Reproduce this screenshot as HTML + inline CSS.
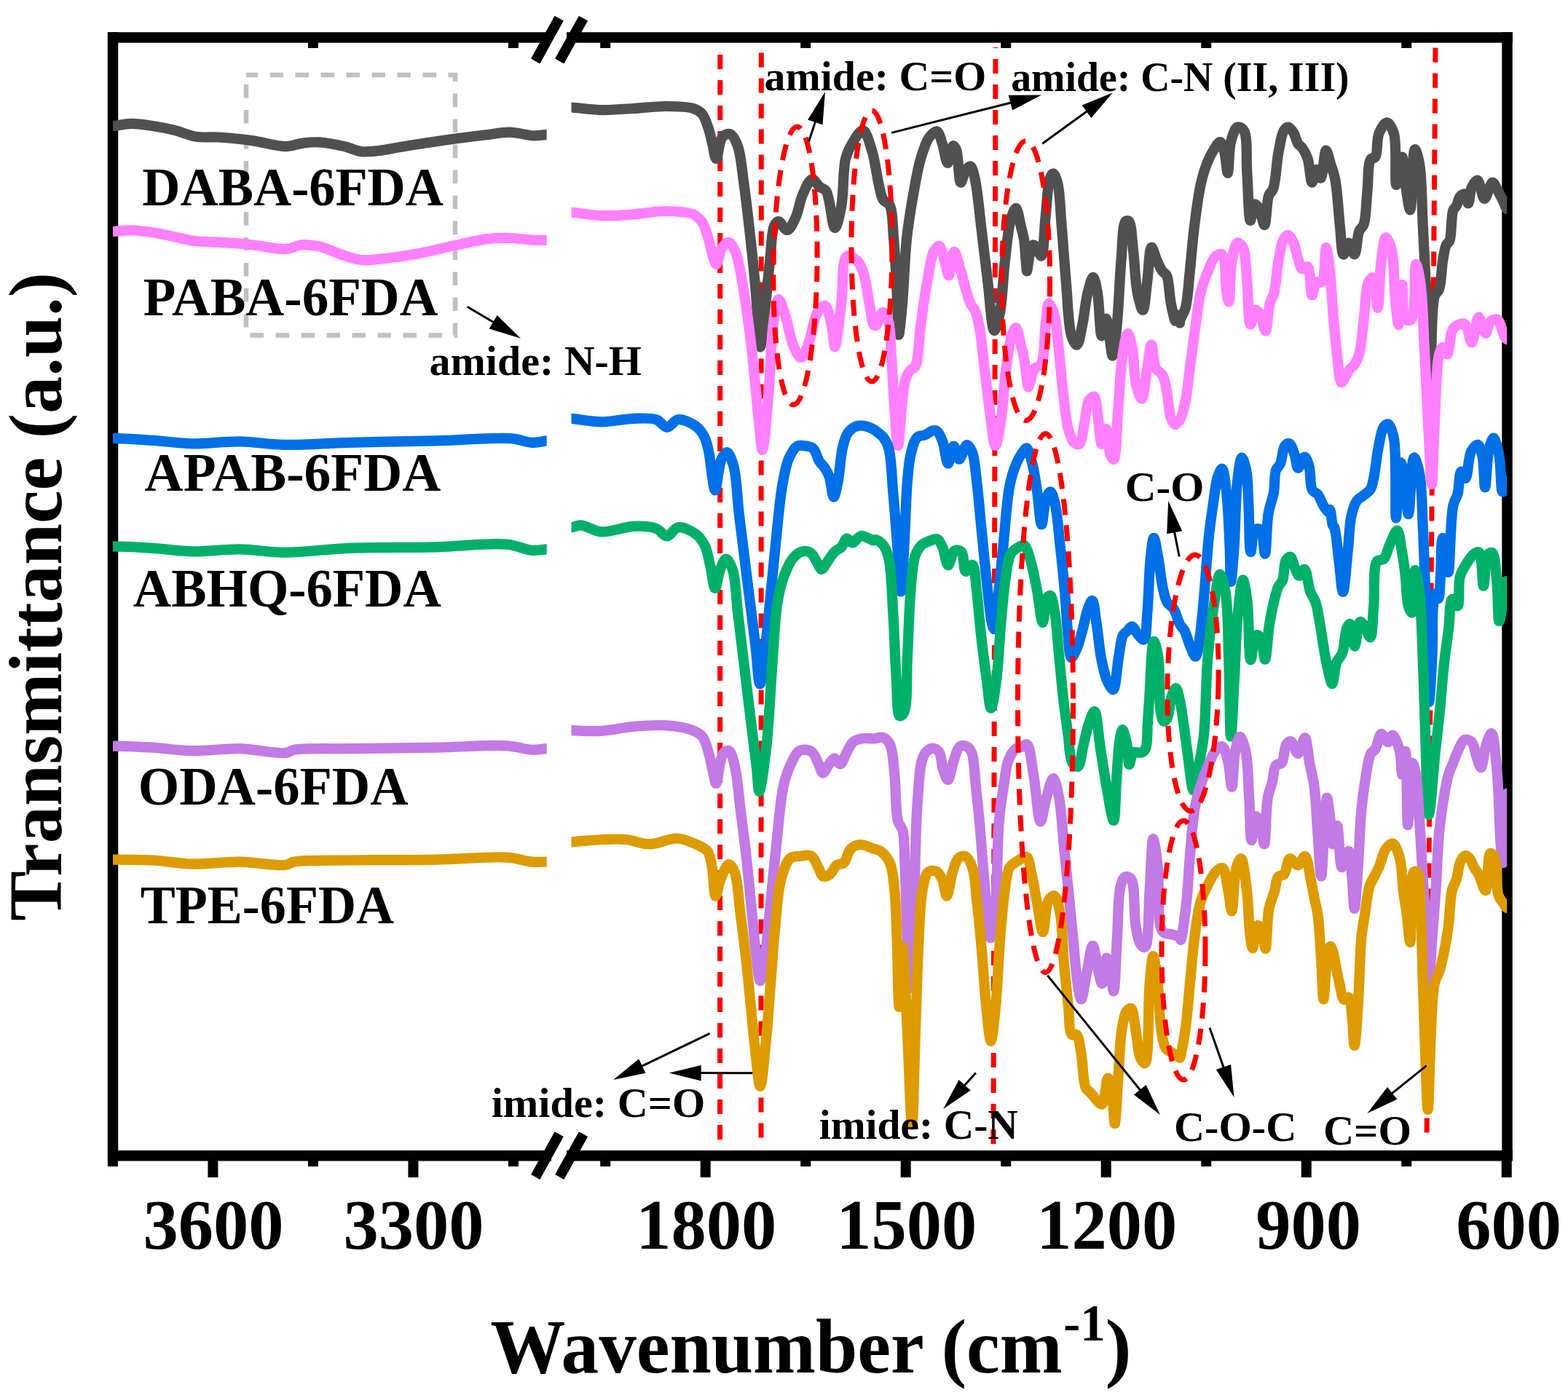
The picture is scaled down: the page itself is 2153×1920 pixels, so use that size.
<!DOCTYPE html>
<html><head><meta charset="utf-8"><style>
html,body{margin:0;padding:0;background:#fff;}
svg{display:block;}
text{font-family:'Liberation Serif','Times New Roman',serif;font-weight:bold;fill:#000;}
</style></head><body>
<svg width="2153" height="1920" viewBox="0 0 2153 1920">
<rect width="2153" height="1920" fill="#fff"/>
<g id="frame">
<path d="M155,44.3 V1594.5 M2069.5,44.3 V1594.5" stroke="#000" stroke-width="14.5" fill="none"/>
<path d="M148,51.6 H757 M778,51.6 H2076.8 M148,1587.2 H757 M778,1587.2 H2076.8" stroke="#000" stroke-width="14.5" fill="none"/>
<rect x="285.4" y="1594" width="14" height="23" fill="#000"/>
<rect x="560.41" y="1594" width="14" height="23" fill="#000"/>
<rect x="147.89499999999998" y="1594" width="14" height="8" fill="#000"/>
<rect x="422.905" y="1594" width="14" height="8" fill="#000"/>
<rect x="697.915" y="1594" width="14" height="8" fill="#000"/>
<rect x="961.7" y="1594" width="14" height="23" fill="#000"/>
<rect x="1236.71" y="1594" width="14" height="23" fill="#000"/>
<rect x="1511.72" y="1594" width="14" height="23" fill="#000"/>
<rect x="1786.73" y="1594" width="14" height="23" fill="#000"/>
<rect x="2061.74" y="1594" width="14" height="23" fill="#000"/>
<rect x="824.195" y="1594" width="14" height="8" fill="#000"/>
<rect x="1099.205" y="1594" width="14" height="8" fill="#000"/>
<rect x="1374.2150000000001" y="1594" width="14" height="8" fill="#000"/>
<rect x="1649.225" y="1594" width="14" height="8" fill="#000"/>
<rect x="1924.2350000000001" y="1594" width="14" height="8" fill="#000"/>
<rect x="422.905" y="58" width="14" height="8" fill="#000"/>
<rect x="697.915" y="58" width="14" height="8" fill="#000"/>
<rect x="824.195" y="58" width="14" height="8" fill="#000"/>
<rect x="1099.205" y="58" width="14" height="8" fill="#000"/>
<rect x="1374.2150000000001" y="58" width="14" height="8" fill="#000"/>
<rect x="1649.225" y="58" width="14" height="8" fill="#000"/>
<rect x="1924.2350000000001" y="58" width="14" height="8" fill="#000"/>
<line x1="735.2" y1="1616.5" x2="767.7" y2="1557.7" stroke="#000" stroke-width="14"/>
<line x1="768.2" y1="1616.5" x2="801" y2="1557.7" stroke="#000" stroke-width="14"/>
<line x1="735.2" y1="84" x2="767.7" y2="25.2" stroke="#000" stroke-width="14"/>
<line x1="768.2" y1="84" x2="801" y2="25.2" stroke="#000" stroke-width="14"/>
</g>
<rect x="338" y="103" width="287" height="357.5" fill="none" stroke="#c0c0c0" stroke-width="6.5" stroke-dasharray="18.5 16.5" stroke-dashoffset="2.5"/>
<g id="red">
<line x1="988.6" y1="1565" x2="988.8" y2="65" stroke="#ff0000" stroke-width="7" stroke-dasharray="20 15"/>
<line x1="1045" y1="1562.5" x2="1045.3" y2="65" stroke="#ff0000" stroke-width="7" stroke-dasharray="20 15"/>
<line x1="1364" y1="1571" x2="1367" y2="65" stroke="#ff0000" stroke-width="7" stroke-dasharray="20 15"/>
<line x1="1971" y1="65.6" x2="1959" y2="1567" stroke="#ff0000" stroke-width="7" stroke-dasharray="20 15"/>
</g>
<g id="curves">
<defs><clipPath id="cl"><rect x="155" y="0" width="595.7" height="1920"/></clipPath><clipPath id="cr"><rect x="784.5" y="0" width="1284.7" height="1920"/></clipPath></defs>
<path d="M148.0,172.9 C150.7,172.9 152.6,173.1 156.0,172.9 C161.8,172.5 171.5,170.0 179.9,169.9 C189.3,169.8 199.9,171.4 209.8,172.9 C219.8,174.4 229.8,176.4 239.7,178.9 C249.7,181.4 259.4,186.2 269.5,187.8 C279.5,189.4 288.8,187.8 300.0,188.5 C313.8,189.3 330.8,191.0 346.2,193.1 C361.6,195.2 379.6,201.3 392.3,201.2 C401.3,201.1 407.7,197.6 415.4,196.6 C423.1,195.6 430.1,194.9 438.5,195.4 C448.9,196.0 462.8,198.8 473.1,201.2 C481.6,203.2 488.4,207.2 496.2,208.1 C503.8,209.0 510.9,207.9 519.3,207.0 C529.7,205.9 540.4,203.3 553.9,201.2 C573.0,198.2 602.3,193.7 623.1,190.8 C640.0,188.5 655.5,186.6 669.3,185.0 C680.6,183.7 689.6,181.4 700.0,181.6 C710.8,181.8 723.5,186.0 732.8,186.3 C739.7,186.5 745.9,185.0 750.7,184.8 C753.9,184.7 756.0,184.8 758.7,184.8" stroke="#505050" stroke-width="14.2" fill="none" stroke-linejoin="round" stroke-linecap="butt" clip-path="url(#cl)"/>
<path d="M148.0,317.8 C150.7,317.8 152.6,317.9 156.0,317.8 C161.8,317.6 171.5,316.1 179.9,316.3 C189.3,316.5 199.9,317.8 209.8,319.3 C219.8,320.8 229.7,323.3 239.7,325.3 C249.6,327.3 259.5,330.1 269.5,331.3 C279.6,332.5 288.8,332.0 300.0,332.7 C313.8,333.5 330.8,334.7 346.2,336.2 C361.6,337.8 379.6,342.8 392.3,342.0 C401.4,341.5 407.7,336.8 415.4,336.2 C423.1,335.6 430.2,336.6 438.5,338.5 C449.0,340.9 462.7,348.0 473.1,351.2 C481.5,353.8 487.7,356.2 496.2,357.0 C506.5,357.9 518.5,356.0 530.8,354.7 C545.1,353.1 561.7,350.6 577.0,347.7 C592.4,344.8 607.7,340.7 623.1,337.4 C638.5,334.1 655.4,329.7 669.3,328.1 C680.5,326.8 689.6,326.7 700.0,327.0 C710.8,327.3 723.5,329.4 732.8,329.8 C739.7,330.1 745.9,329.8 750.7,329.8 C753.9,329.8 756.0,329.8 758.7,329.8" stroke="#ff80ff" stroke-width="14.2" fill="none" stroke-linejoin="round" stroke-linecap="butt" clip-path="url(#cl)"/>
<path d="M147.4,601.8 C150.1,601.8 151.5,601.7 155.4,601.8 C165.5,602.1 191.7,603.5 209.8,604.8 C227.8,606.0 244.8,608.9 263.6,609.3 C284.3,609.7 307.7,606.0 329.0,606.3 C349.4,606.6 367.0,610.3 389.0,610.8 C415.9,611.4 446.7,608.7 478.7,607.8 C515.6,606.8 559.5,606.3 598.0,605.4 C634.1,604.5 679.6,600.4 703.0,602.4 C714.9,603.4 721.4,607.4 729.8,607.8 C737.2,608.1 745.4,605.7 750.7,605.4 C754.0,605.2 756.0,605.4 758.7,605.4" stroke="#0070e6" stroke-width="14.2" fill="none" stroke-linejoin="round" stroke-linecap="butt" clip-path="url(#cl)"/>
<path d="M147.4,750.4 C150.1,750.4 151.5,750.3 155.4,750.4 C165.5,750.6 191.7,751.6 209.8,752.8 C227.8,753.9 244.8,756.9 263.6,757.3 C284.3,757.7 307.4,754.0 329.0,754.3 C350.2,754.6 369.3,758.7 392.0,758.7 C418.6,758.7 447.5,754.1 478.7,752.8 C515.3,751.3 560.1,752.2 598.0,751.3 C632.5,750.5 673.0,745.2 697.0,747.7 C711.0,749.1 720.0,755.0 729.8,755.8 C737.5,756.5 745.4,754.5 750.7,754.3 C754.0,754.2 756.0,754.3 758.7,754.3" stroke="#00b06a" stroke-width="14.2" fill="none" stroke-linejoin="round" stroke-linecap="butt" clip-path="url(#cl)"/>
<path d="M147.4,1024.6 C150.1,1024.6 151.5,1024.5 155.4,1024.6 C165.5,1024.8 191.7,1025.6 209.8,1026.7 C227.8,1027.8 244.8,1030.8 263.6,1031.2 C284.3,1031.6 307.4,1027.7 329.0,1028.2 C350.2,1028.7 379.3,1035.7 392.0,1034.1 C397.7,1033.4 398.2,1030.8 404.0,1029.7 C418.1,1027.0 450.9,1028.7 478.7,1028.2 C513.8,1027.6 560.1,1027.4 598.0,1026.7 C632.5,1026.1 672.9,1022.6 697.0,1024.3 C710.9,1025.3 720.1,1029.3 729.8,1029.7 C737.5,1030.1 745.4,1028.4 750.7,1028.2 C754.0,1028.1 756.0,1028.2 758.7,1028.2" stroke="#c27ae4" stroke-width="14.2" fill="none" stroke-linejoin="round" stroke-linecap="butt" clip-path="url(#cl)"/>
<path d="M147.4,1180.6 C150.1,1180.6 151.5,1180.6 155.4,1180.6 C165.5,1180.7 191.7,1180.5 209.8,1181.5 C227.8,1182.5 244.8,1186.1 263.6,1186.6 C284.3,1187.1 307.4,1183.3 329.0,1183.6 C350.2,1183.9 379.4,1189.8 392.0,1188.0 C397.7,1187.2 398.2,1184.7 404.0,1183.6 C418.1,1180.9 450.9,1182.0 478.7,1181.5 C513.8,1180.9 560.1,1181.3 598.0,1180.6 C632.5,1179.9 673.0,1175.8 697.0,1177.6 C710.9,1178.7 720.1,1182.7 729.8,1183.6 C737.5,1184.3 745.4,1183.6 750.7,1183.6 C754.0,1183.6 756.0,1183.6 758.7,1183.6" stroke="#dd9b00" stroke-width="14.2" fill="none" stroke-linejoin="round" stroke-linecap="butt" clip-path="url(#cl)"/>
<path d="M776.5,147.5 C779.2,147.5 780.8,147.3 784.5,147.5 C792.7,147.9 810.8,150.7 824.5,151.0 C838.9,151.3 854.2,149.8 869.0,149.0 C883.9,148.2 899.3,145.9 913.6,146.0 C926.9,146.1 943.1,146.1 952.0,149.0 C957.4,150.8 960.7,152.6 964.0,156.4 C968.2,161.2 970.6,170.2 973.0,177.2 C975.3,184.0 976.6,191.1 978.3,198.0 C980.0,204.7 981.4,218.0 983.4,218.0 C985.8,218.0 987.3,193.5 991.9,188.3 C994.7,185.2 999.2,183.0 1002.3,184.0 C1006.4,185.3 1009.9,192.7 1012.7,200.0 C1017.5,212.3 1018.8,234.3 1021.6,253.6 C1024.8,276.3 1027.8,303.1 1030.5,327.8 C1033.2,352.5 1035.7,377.2 1037.9,402.0 C1040.1,426.8 1041.4,476.6 1043.8,476.7 C1046.0,476.7 1049.1,436.9 1051.3,417.0 C1053.5,397.2 1055.1,376.2 1057.2,357.5 C1059.1,340.8 1059.2,318.0 1063.1,310.0 C1064.7,306.6 1066.7,304.0 1069.0,304.0 C1072.3,304.0 1077.2,316.4 1081.0,316.0 C1085.2,315.6 1089.5,305.0 1092.8,298.0 C1096.7,289.6 1097.8,277.4 1101.7,268.5 C1105.3,260.3 1110.4,246.8 1115.0,246.2 C1118.4,245.8 1122.0,253.8 1125.5,256.6 C1128.5,259.0 1131.8,258.8 1134.4,262.5 C1140.1,270.7 1142.4,312.9 1146.3,313.0 C1149.3,313.1 1152.9,295.3 1155.2,283.3 C1158.6,265.9 1157.2,233.5 1161.1,218.0 C1163.4,208.9 1166.1,203.6 1170.0,197.2 C1174.0,190.6 1180.5,178.4 1184.9,179.0 C1190.0,179.7 1194.3,197.8 1197.8,209.0 C1201.9,222.2 1203.8,241.5 1206.7,253.5 C1208.7,261.8 1209.4,269.4 1212.6,274.3 C1214.9,277.9 1219.2,277.5 1221.5,281.7 C1226.1,290.1 1225.5,310.6 1227.1,327.8 C1229.1,349.6 1230.4,378.8 1231.6,402.0 C1232.6,422.5 1232.6,459.9 1234.0,460.0 C1235.2,460.0 1237.4,433.9 1239.0,417.0 C1241.2,392.7 1242.1,354.5 1245.0,327.8 C1247.4,306.0 1250.4,287.4 1253.8,268.5 C1256.9,250.9 1259.9,232.4 1264.2,218.0 C1267.6,206.6 1271.2,194.6 1276.1,188.3 C1279.2,184.3 1283.7,179.8 1286.5,180.5 C1289.9,181.4 1291.6,190.9 1293.9,197.2 C1296.7,205.0 1298.7,223.9 1301.3,223.9 C1303.7,223.9 1306.2,200.7 1308.8,200.2 C1310.2,200.0 1311.9,202.9 1313.2,206.0 C1316.4,213.7 1316.1,250.2 1319.2,250.6 C1321.2,250.9 1323.7,236.5 1326.6,232.8 C1328.4,230.5 1330.8,227.9 1332.5,228.4 C1335.1,229.2 1336.7,237.3 1338.5,244.7 C1342.1,259.5 1344.5,289.8 1347.4,313.0 C1350.4,337.2 1353.3,363.1 1356.3,387.2 C1359.2,410.1 1361.5,453.6 1365.2,454.0 C1367.4,454.2 1370.5,441.5 1372.6,431.8 C1376.3,414.4 1377.3,380.2 1380.0,357.5 C1382.3,338.2 1383.9,317.0 1387.4,304.0 C1389.5,296.2 1392.6,285.7 1394.9,285.8 C1397.7,286.0 1400.3,305.3 1402.3,313.0 C1403.8,318.7 1404.8,321.5 1405.9,327.8 C1407.7,338.6 1409.2,372.3 1410.0,372.4 C1410.2,372.4 1410.2,371.8 1410.4,371.0 C1411.4,367.2 1414.2,338.8 1417.8,336.7 C1419.1,335.9 1420.8,337.0 1422.3,338.2 C1424.9,340.4 1427.7,352.0 1429.7,351.6 C1433.4,350.9 1433.6,315.8 1435.6,298.0 C1437.6,280.2 1438.3,253.7 1441.6,244.7 C1442.9,241.3 1444.5,238.2 1446.0,238.3 C1448.0,238.4 1450.3,244.7 1452.0,250.6 C1455.5,263.2 1456.0,291.3 1457.9,313.0 C1460.0,336.7 1461.6,362.5 1463.8,387.2 C1466.0,411.9 1466.6,447.4 1471.3,461.4 C1473.3,467.6 1476.5,474.0 1478.7,473.7 C1481.7,473.3 1483.9,456.8 1486.1,446.6 C1488.9,433.6 1490.4,414.0 1493.5,402.0 C1495.7,393.5 1498.8,380.8 1501.0,380.9 C1503.2,381.0 1505.2,393.1 1506.9,402.0 C1509.7,416.7 1510.1,461.2 1512.8,461.4 C1514.5,461.5 1517.1,437.6 1518.8,437.7 C1520.5,437.8 1521.8,453.2 1523.2,461.4 C1524.7,470.1 1526.2,488.6 1527.7,488.6 C1529.6,488.6 1531.9,463.2 1533.6,446.6 C1536.1,422.5 1537.2,383.4 1539.5,357.5 C1541.3,337.4 1541.0,308.3 1545.5,304.0 C1546.8,302.8 1548.7,302.7 1550.0,303.7 C1553.8,306.8 1554.1,328.3 1555.9,342.7 C1558.1,360.4 1558.7,386.8 1561.8,402.0 C1563.8,411.8 1567.1,426.0 1569.2,425.8 C1571.8,425.6 1573.3,400.7 1575.2,387.2 C1577.3,372.2 1578.0,340.1 1581.1,339.7 C1583.1,339.4 1585.9,351.9 1588.5,357.5 C1590.9,362.7 1593.3,368.7 1596.0,372.4 C1597.9,375.0 1600.3,375.1 1601.9,378.3 C1605.4,385.3 1605.5,405.7 1607.8,417.0 C1609.6,425.9 1612.8,440.8 1613.8,440.7 C1614.4,440.6 1613.7,431.9 1614.5,431.8 C1615.5,431.6 1619.2,443.7 1620.0,443.6 C1620.4,443.5 1619.9,441.3 1620.4,439.6 C1621.4,435.9 1625.8,430.2 1627.8,422.9 C1631.1,410.8 1631.9,389.9 1633.8,372.4 C1635.9,353.4 1637.2,332.8 1639.7,313.0 C1642.2,293.2 1645.0,269.9 1648.6,253.6 C1651.2,241.9 1654.1,232.4 1657.5,223.9 C1660.2,217.1 1663.1,211.1 1666.4,206.0 C1669.2,201.7 1672.8,194.7 1675.3,195.0 C1677.8,195.4 1679.7,203.4 1681.3,209.0 C1683.5,216.8 1684.3,237.7 1685.7,237.7 C1687.4,237.7 1687.1,205.7 1690.2,194.2 C1692.4,186.1 1695.3,175.8 1699.1,174.5 C1701.7,173.6 1705.7,175.9 1708.0,179.4 C1713.5,188.0 1710.9,218.6 1712.4,238.8 C1713.9,259.8 1714.3,302.8 1716.9,303.0 C1718.5,303.1 1720.0,281.1 1722.8,280.3 C1724.5,279.8 1727.0,283.4 1728.8,286.3 C1731.8,291.2 1734.2,309.2 1736.2,309.0 C1738.9,308.8 1738.9,276.9 1742.1,268.5 C1743.8,264.2 1746.4,264.0 1748.1,259.5 C1751.9,249.7 1752.6,223.5 1755.5,209.0 C1757.7,197.8 1759.4,184.9 1762.9,179.4 C1764.6,176.6 1766.9,174.4 1768.9,174.5 C1771.3,174.7 1774.2,179.1 1776.3,182.4 C1778.8,186.4 1779.8,193.6 1782.2,197.2 C1783.9,199.8 1786.2,200.5 1788.1,203.1 C1790.8,206.8 1793.6,211.9 1795.6,218.0 C1798.5,226.6 1799.2,250.4 1801.5,250.6 C1803.3,250.7 1805.2,233.0 1807.4,232.8 C1809.2,232.7 1811.6,244.9 1813.4,244.7 C1816.5,244.3 1818.1,206.7 1820.8,206.5 C1822.7,206.4 1825.0,218.5 1827.0,225.0 C1829.2,232.1 1831.7,238.0 1833.5,247.5 C1836.5,263.2 1837.8,292.5 1839.9,311.0 C1841.5,325.4 1841.9,349.1 1844.7,349.5 C1846.6,349.8 1849.4,333.5 1851.9,333.5 C1854.4,333.5 1857.6,349.7 1859.8,349.4 C1862.8,349.0 1863.2,324.9 1866.2,317.6 C1868.0,313.2 1870.9,312.7 1872.6,308.0 C1875.9,298.8 1875.8,278.3 1877.4,263.4 C1879.0,248.5 1877.8,225.0 1882.1,218.8 C1883.8,216.3 1886.8,217.9 1888.5,215.6 C1892.1,210.7 1889.9,192.1 1893.3,183.7 C1895.9,177.3 1900.9,168.3 1904.4,168.4 C1907.8,168.5 1911.7,176.3 1914.0,183.7 C1918.5,198.2 1914.7,253.6 1917.2,253.8 C1919.1,254.0 1923.1,215.5 1925.2,215.6 C1927.3,215.7 1928.0,241.4 1929.9,253.8 C1931.7,265.6 1934.5,288.4 1936.3,288.3 C1939.1,288.1 1939.2,205.4 1942.7,205.0 C1944.5,204.8 1947.4,216.0 1949.1,225.2 C1952.5,243.8 1952.3,281.8 1953.8,311.2 C1955.4,342.2 1957.0,374.0 1958.6,406.8 C1960.3,441.5 1962.1,514.0 1964.0,514.0 C1965.9,514.0 1964.5,423.0 1969.8,406.8 C1971.5,401.5 1974.4,401.7 1976.1,397.2 C1979.2,388.9 1979.1,370.0 1981.0,359.0 C1982.4,350.5 1983.4,341.7 1985.7,336.7 C1987.1,333.7 1989.2,333.6 1990.5,330.3 C1993.5,322.7 1992.3,296.5 1995.3,288.9 C1996.6,285.6 1998.6,285.1 2000.0,282.5 C2001.9,279.1 2002.4,272.4 2004.8,269.8 C2006.5,267.9 2009.5,265.9 2011.2,266.6 C2013.6,267.5 2014.6,279.4 2016.0,279.3 C2017.9,279.2 2018.1,262.6 2020.8,257.0 C2022.8,252.9 2026.3,247.1 2028.7,247.5 C2032.3,248.1 2034.8,272.8 2038.3,273.0 C2041.7,273.2 2045.8,250.9 2049.4,250.7 C2052.2,250.6 2054.8,258.9 2057.4,263.4 C2060.2,268.3 2063.3,274.9 2065.4,279.3 C2066.9,282.3 2067.0,285.7 2069.0,287.0 C2070.9,288.2 2074.3,287.0 2077.0,287.0" stroke="#505050" stroke-width="14.2" fill="none" stroke-linejoin="round" stroke-linecap="butt" clip-path="url(#cr)"/>
<path d="M776.5,291.5 C779.2,291.5 780.8,291.3 784.5,291.5 C792.7,292.0 810.8,295.5 824.5,296.0 C838.9,296.6 854.2,295.5 869.0,294.5 C883.9,293.5 899.3,289.9 913.6,290.0 C926.9,290.1 943.2,290.6 952.0,294.5 C957.7,297.0 960.7,300.3 964.0,305.0 C968.1,310.9 970.5,320.6 973.0,328.6 C975.5,336.4 976.9,346.1 979.0,352.4 C980.4,356.7 981.7,363.0 983.4,363.0 C985.8,362.9 988.1,344.8 991.9,339.7 C994.4,336.3 998.0,332.6 1000.8,333.0 C1004.1,333.5 1007.0,339.6 1009.7,345.7 C1014.8,357.5 1018.0,381.0 1021.6,402.0 C1026.1,428.2 1030.0,461.0 1033.4,491.0 C1036.9,521.4 1039.8,559.8 1042.4,583.2 C1044.0,597.6 1045.2,618.0 1046.8,618.0 C1049.3,618.0 1053.3,563.7 1055.7,535.7 C1058.2,506.6 1058.5,469.5 1061.6,446.6 C1063.6,432.0 1065.8,411.3 1069.0,411.0 C1071.5,410.7 1075.1,423.4 1078.0,431.8 C1082.1,443.7 1085.0,465.8 1089.9,476.3 C1093.0,482.9 1096.9,491.2 1100.2,491.0 C1103.9,490.7 1107.4,478.6 1110.6,470.3 C1115.0,459.0 1117.1,437.2 1122.5,428.8 C1125.5,424.1 1130.0,419.1 1132.9,419.9 C1137.0,421.1 1139.6,437.4 1141.8,446.6 C1144.1,456.1 1144.6,476.3 1146.3,476.3 C1148.8,476.3 1152.5,437.2 1155.2,417.0 C1158.0,395.9 1155.4,356.3 1162.6,352.0 C1166.0,350.0 1172.4,354.4 1176.0,357.5 C1180.0,360.9 1182.4,365.8 1184.9,372.4 C1189.0,383.0 1191.1,403.7 1193.8,417.0 C1196.0,427.9 1196.9,444.1 1200.0,446.6 C1201.0,447.4 1202.2,447.3 1203.4,446.6 C1206.2,444.9 1209.3,428.9 1212.3,428.8 C1214.8,428.7 1217.8,435.1 1219.7,440.7 C1223.3,451.4 1222.7,472.6 1224.1,491.0 C1225.8,513.4 1226.9,543.5 1228.6,565.4 C1229.9,582.8 1231.4,612.0 1233.0,612.0 C1234.8,612.0 1236.9,567.3 1239.0,550.5 C1240.4,538.8 1241.0,528.3 1243.4,520.8 C1245.0,515.8 1246.9,512.1 1249.4,509.0 C1251.5,506.4 1254.8,506.7 1256.8,503.0 C1261.8,494.1 1261.5,465.6 1264.2,446.6 C1266.9,427.0 1269.8,405.2 1273.1,387.2 C1275.9,372.1 1277.7,353.8 1282.0,345.7 C1284.2,341.6 1287.3,337.4 1289.5,337.8 C1292.6,338.4 1294.7,350.8 1296.9,357.5 C1299.1,364.3 1300.8,378.4 1302.8,378.3 C1305.3,378.2 1307.4,345.9 1310.2,345.7 C1312.5,345.6 1315.3,359.0 1317.7,366.4 C1320.3,374.7 1322.6,384.6 1325.1,393.2 C1327.5,401.4 1329.7,411.2 1332.5,417.0 C1334.3,420.8 1336.8,422.1 1338.5,425.8 C1341.0,431.1 1342.6,437.8 1344.4,446.6 C1347.4,461.2 1349.3,486.2 1351.8,506.0 C1354.3,525.8 1356.5,546.8 1359.2,565.4 C1361.6,581.9 1363.9,611.9 1366.7,612.0 C1369.0,612.1 1372.0,593.1 1374.1,580.2 C1377.3,560.7 1378.6,527.6 1381.5,506.0 C1383.7,489.2 1385.7,471.2 1389.0,461.4 C1390.7,456.2 1393.0,449.8 1394.9,450.0 C1397.6,450.3 1400.3,468.8 1402.3,476.3 C1403.8,481.9 1404.8,485.2 1405.9,491.0 C1407.5,499.2 1408.8,513.3 1410.0,520.8 C1410.7,525.3 1410.8,531.5 1411.9,531.6 C1413.7,531.7 1416.8,511.2 1420.8,506.0 C1423.3,502.7 1427.4,503.8 1429.7,500.0 C1434.9,491.4 1433.6,461.8 1435.6,446.6 C1437.1,435.1 1437.6,416.9 1440.1,416.5 C1442.0,416.2 1445.5,425.2 1447.5,431.8 C1450.7,442.6 1451.5,460.4 1453.4,476.3 C1455.5,494.7 1457.1,516.4 1459.4,535.7 C1461.6,554.0 1463.3,576.2 1466.8,589.1 C1468.9,596.8 1470.9,603.7 1474.2,607.0 C1476.3,609.1 1479.6,611.1 1481.7,610.0 C1485.8,607.9 1486.9,590.2 1489.1,580.2 C1491.3,570.3 1491.5,556.3 1495.0,550.5 C1497.0,547.3 1500.4,543.8 1502.4,544.6 C1506.3,546.1 1506.6,568.9 1508.4,580.2 C1510.0,590.6 1510.9,609.9 1512.8,610.0 C1514.5,610.1 1517.0,589.0 1518.8,589.1 C1521.1,589.2 1521.8,618.0 1524.7,624.8 C1526.0,627.9 1527.9,631.4 1529.2,631.0 C1533.0,630.0 1533.2,588.0 1535.1,565.4 C1537.1,541.4 1538.0,510.7 1541.0,491.0 C1543.0,477.7 1545.9,458.1 1548.5,458.0 C1550.4,457.9 1552.7,468.5 1554.4,476.3 C1557.2,489.3 1557.0,516.8 1560.3,529.7 C1562.3,537.4 1565.6,547.8 1567.8,547.6 C1571.0,547.2 1572.9,519.0 1575.2,506.0 C1577.3,494.4 1579.1,473.3 1581.1,473.3 C1583.1,473.3 1583.4,498.9 1587.1,506.0 C1589.4,510.4 1593.7,510.9 1596.0,514.9 C1599.1,520.1 1600.1,527.6 1601.9,535.7 C1604.3,546.5 1604.6,566.2 1607.8,574.3 C1609.5,578.6 1611.8,583.1 1613.8,583.2 C1615.5,583.3 1617.7,577.7 1618.9,577.2 C1619.3,577.0 1619.6,577.5 1620.0,577.2 C1622.0,575.7 1625.7,560.6 1627.8,550.5 C1630.5,537.6 1631.8,520.8 1633.8,506.0 C1635.8,491.1 1637.5,477.3 1639.7,461.4 C1642.3,443.0 1644.8,417.8 1648.6,402.0 C1651.2,391.2 1654.0,383.8 1657.5,375.3 C1660.9,367.0 1664.7,355.2 1669.4,351.6 C1672.1,349.5 1676.0,348.0 1678.3,349.7 C1683.9,353.7 1682.2,390.6 1684.2,402.0 C1685.2,407.6 1686.3,414.5 1687.2,414.4 C1689.1,414.2 1688.9,372.3 1691.7,357.5 C1693.6,347.6 1695.7,334.4 1699.1,333.4 C1701.2,332.8 1704.5,336.0 1706.5,339.7 C1710.9,347.8 1710.7,370.5 1712.4,387.2 C1714.3,405.6 1713.8,445.1 1716.9,445.5 C1718.8,445.8 1721.4,426.4 1724.3,425.8 C1726.1,425.4 1728.4,428.9 1730.2,431.8 C1733.2,436.7 1735.6,454.6 1737.7,454.4 C1740.3,454.2 1741.0,426.5 1743.6,416.9 C1745.3,410.7 1747.8,408.4 1749.5,402.0 C1752.3,391.2 1753.0,370.8 1755.5,357.5 C1757.6,346.5 1759.4,333.2 1762.9,327.8 C1764.6,325.1 1766.9,322.7 1768.9,323.0 C1771.4,323.4 1774.2,329.4 1776.3,333.8 C1778.9,339.4 1780.1,348.3 1782.2,354.6 C1784.0,360.0 1785.2,368.2 1788.1,369.4 C1790.1,370.3 1793.6,365.3 1795.6,366.4 C1800.0,368.9 1799.0,405.3 1801.5,405.5 C1803.2,405.6 1804.2,389.5 1807.4,387.2 C1809.4,385.7 1812.9,389.0 1814.9,387.2 C1820.0,382.7 1819.0,340.0 1821.0,340.0 C1822.7,340.0 1824.7,360.7 1826.2,373.7 C1828.2,391.5 1829.3,417.4 1831.0,437.0 C1832.5,454.0 1833.8,469.4 1835.7,484.6 C1837.5,498.6 1838.3,524.3 1842.0,525.0 C1844.5,525.5 1848.5,513.1 1851.9,508.8 C1854.5,505.5 1857.5,504.1 1859.8,500.8 C1862.5,496.9 1864.4,492.8 1866.2,486.5 C1869.4,475.4 1870.5,454.9 1872.6,438.7 C1874.8,422.0 1874.8,396.3 1879.0,387.7 C1880.7,384.1 1883.6,380.7 1885.3,381.3 C1889.1,382.5 1889.9,422.8 1891.7,422.7 C1893.9,422.6 1894.1,376.7 1896.5,359.0 C1898.2,346.2 1900.0,326.6 1902.9,326.2 C1905.1,325.9 1908.8,335.4 1910.8,343.0 C1914.5,357.2 1913.8,388.1 1915.6,406.8 C1917.0,421.5 1918.9,446.0 1920.4,446.0 C1922.2,446.0 1923.6,390.9 1925.2,390.9 C1926.7,390.9 1924.8,434.1 1929.9,438.7 C1932.0,440.6 1935.7,440.7 1937.9,438.7 C1944.6,432.5 1941.3,363.0 1944.3,362.8 C1946.1,362.7 1949.0,379.1 1950.7,390.9 C1953.5,410.6 1953.9,442.7 1955.4,470.5 C1957.1,500.9 1958.8,537.4 1960.2,566.1 C1961.4,589.5 1962.3,611.8 1963.4,629.9 C1964.2,643.3 1965.1,665.0 1966.0,665.0 C1967.3,665.0 1968.2,610.6 1969.8,582.0 C1971.5,551.3 1971.9,501.6 1976.1,486.5 C1977.5,481.4 1979.2,477.0 1981.0,476.9 C1982.9,476.8 1985.5,486.8 1987.3,486.5 C1990.3,485.9 1990.8,461.0 1993.7,454.6 C1995.1,451.4 1996.2,449.8 1998.5,448.2 C2001.5,446.2 2007.8,443.2 2011.2,445.0 C2016.1,447.6 2017.8,470.6 2020.8,470.5 C2024.2,470.3 2026.7,435.8 2030.3,435.5 C2033.2,435.3 2037.1,457.8 2039.9,457.8 C2042.3,457.8 2043.0,445.0 2046.3,441.9 C2048.8,439.5 2053.1,437.5 2055.8,438.7 C2060.1,440.6 2062.7,456.3 2065.4,461.0 C2066.7,463.4 2067.3,465.1 2069.0,466.0 C2071.0,467.0 2074.3,466.0 2077.0,466.0" stroke="#ff80ff" stroke-width="14.2" fill="none" stroke-linejoin="round" stroke-linecap="butt" clip-path="url(#cr)"/>
<path d="M776.5,574.8 C779.2,574.8 780.8,574.6 784.5,574.8 C792.9,575.3 811.3,579.2 825.3,579.3 C840.0,579.4 857.1,575.1 870.7,574.8 C881.8,574.5 892.9,573.6 900.9,576.3 C907.2,578.4 911.0,586.8 916.0,586.8 C921.0,586.8 925.3,577.0 931.1,576.3 C938.0,575.4 949.1,580.8 955.3,585.3 C960.7,589.2 964.4,594.6 967.4,600.4 C970.6,606.6 971.7,613.7 973.4,621.6 C975.4,631.4 976.4,645.3 978.0,654.8 C979.2,661.9 980.4,673.5 981.9,673.5 C984.2,673.5 986.5,639.6 990.6,630.7 C992.8,626.0 995.7,620.8 998.1,621.0 C1001.3,621.3 1004.7,631.3 1007.2,639.7 C1011.6,654.8 1012.2,684.6 1014.8,706.2 C1017.3,726.8 1019.8,746.5 1022.3,766.6 C1024.8,786.8 1027.4,806.9 1029.9,827.1 C1032.4,847.2 1035.1,868.1 1037.4,887.5 C1039.6,905.5 1041.2,939.5 1043.5,939.5 C1045.8,939.5 1048.7,906.5 1051.0,887.5 C1053.8,864.7 1056.1,837.2 1058.6,812.0 C1061.1,786.8 1063.5,760.8 1066.1,736.4 C1068.5,713.5 1070.4,689.2 1073.7,670.0 C1076.2,655.1 1078.3,641.0 1082.7,630.7 C1086.0,623.1 1090.9,614.8 1094.8,612.5 C1096.9,611.3 1098.4,611.8 1100.9,612.0 C1104.8,612.3 1112.1,612.4 1116.0,615.5 C1120.5,619.0 1121.9,628.8 1125.1,633.7 C1127.5,637.4 1130.4,639.4 1132.6,642.8 C1135.0,646.4 1136.9,649.8 1138.7,654.8 C1141.3,662.0 1142.6,682.5 1144.7,682.6 C1146.6,682.7 1148.9,669.5 1150.7,660.9 C1153.2,648.6 1153.9,627.6 1156.8,615.5 C1158.9,607.0 1160.5,599.6 1164.3,594.4 C1167.4,590.1 1172.4,586.7 1176.4,585.3 C1179.5,584.2 1182.2,584.3 1185.5,584.8 C1189.8,585.4 1197.4,588.5 1200.0,589.9 C1201.1,590.5 1201.2,590.7 1202.1,591.4 C1204.3,593.1 1209.8,596.7 1212.7,600.4 C1215.9,604.5 1218.2,608.5 1220.2,615.5 C1224.0,628.7 1224.4,654.7 1226.3,676.0 C1228.4,699.8 1230.5,727.7 1232.3,751.5 C1233.9,772.9 1235.3,812.5 1236.8,812.5 C1238.3,812.5 1240.0,773.8 1241.4,751.5 C1243.1,724.3 1243.9,684.3 1245.9,660.9 C1247.2,646.1 1247.8,635.3 1250.4,624.6 C1252.6,615.6 1255.0,604.5 1259.5,600.4 C1262.4,597.7 1266.7,598.8 1270.1,597.4 C1273.7,595.9 1277.6,592.0 1280.7,591.4 C1282.9,591.0 1284.9,591.0 1286.7,592.3 C1289.7,594.4 1292.1,600.7 1294.3,606.5 C1297.4,614.5 1299.1,636.6 1301.8,636.7 C1304.2,636.8 1306.7,612.6 1309.4,612.5 C1311.8,612.4 1314.0,630.6 1316.9,630.7 C1320.0,630.9 1324.1,611.2 1327.5,611.0 C1330.1,610.8 1333.1,616.6 1335.1,621.6 C1338.6,630.3 1339.3,646.4 1341.1,660.9 C1343.4,678.9 1345.0,700.0 1347.1,721.3 C1349.5,745.1 1352.0,773.1 1354.7,796.9 C1357.1,818.2 1359.5,847.4 1362.3,857.3 C1363.3,860.7 1364.4,864.0 1365.3,863.9 C1367.8,863.5 1369.4,830.0 1371.3,812.0 C1373.4,792.6 1375.1,773.3 1377.4,751.5 C1380.1,725.7 1382.2,687.8 1386.4,666.9 C1389.0,654.1 1391.8,645.3 1395.5,636.7 C1398.6,629.7 1403.1,622.0 1406.1,618.6 C1407.5,616.9 1408.7,615.1 1410.0,615.5 C1412.9,616.3 1415.9,630.7 1418.1,639.7 C1420.8,650.5 1422.3,663.3 1424.2,676.0 C1426.3,690.0 1428.1,720.4 1430.2,720.4 C1432.1,720.4 1433.3,692.9 1436.3,685.0 C1438.0,680.6 1440.5,675.2 1442.3,675.4 C1444.6,675.6 1446.6,684.0 1448.4,691.1 C1451.8,704.6 1453.6,731.3 1455.9,751.5 C1458.2,771.6 1460.2,791.8 1462.0,812.0 C1463.8,832.1 1464.7,855.7 1466.5,872.4 C1467.8,884.4 1468.2,902.6 1471.0,903.2 C1472.9,903.6 1476.3,895.6 1478.6,890.6 C1481.6,884.0 1483.7,874.9 1486.1,866.4 C1488.8,856.9 1490.8,843.7 1493.7,836.2 C1495.6,831.4 1498.0,824.7 1499.7,825.0 C1502.5,825.4 1503.9,845.6 1505.8,857.3 C1508.0,871.1 1509.2,889.1 1511.8,902.6 C1513.9,913.8 1516.0,924.9 1519.4,932.9 C1521.9,938.7 1526.0,947.5 1528.4,947.0 C1532.4,946.2 1533.5,916.0 1536.0,902.6 C1538.0,891.6 1538.8,878.4 1542.0,872.4 C1543.7,869.3 1546.1,868.4 1548.1,866.4 C1550.1,864.4 1552.0,860.2 1554.1,860.3 C1556.9,860.5 1560.1,869.2 1563.2,872.4 C1565.7,875.0 1568.8,879.3 1570.7,878.5 C1574.4,877.0 1574.0,856.5 1575.3,842.2 C1577.2,821.6 1577.7,785.6 1579.8,766.6 C1581.1,755.1 1582.5,738.9 1584.3,738.9 C1586.1,738.9 1588.5,756.5 1590.4,766.6 C1592.6,778.5 1594.0,795.0 1596.4,806.0 C1598.2,814.2 1599.4,821.8 1602.5,827.1 C1604.9,831.1 1608.9,832.2 1611.5,836.2 C1615.0,841.5 1617.0,851.9 1620.0,857.3 C1622.1,861.1 1624.6,862.6 1626.6,866.4 C1629.5,871.8 1631.4,881.2 1634.2,887.5 C1636.5,892.8 1639.6,902.0 1641.7,901.7 C1644.5,901.3 1646.0,884.0 1647.8,872.4 C1650.3,855.9 1651.9,833.3 1653.8,812.0 C1655.9,788.2 1657.6,758.4 1659.9,736.4 C1661.7,719.4 1663.8,705.3 1665.9,691.1 C1667.8,678.3 1669.1,663.3 1672.0,654.8 C1673.7,649.9 1676.3,643.4 1678.0,643.7 C1680.8,644.1 1682.4,662.9 1684.0,676.0 C1686.4,695.8 1687.6,729.2 1688.6,751.5 C1689.4,769.2 1689.1,799.0 1690.1,799.0 C1691.1,799.0 1693.3,769.9 1694.6,751.5 C1696.4,726.2 1696.4,683.4 1699.1,660.9 C1700.7,647.3 1702.8,628.8 1705.2,628.6 C1707.0,628.5 1709.7,638.6 1711.2,645.8 C1713.5,657.2 1713.4,674.5 1714.3,691.1 C1715.4,711.2 1715.2,757.9 1717.3,758.1 C1718.8,758.2 1719.2,730.8 1723.3,727.4 C1725.3,725.7 1728.9,725.7 1730.9,727.4 C1735.2,731.0 1735.2,760.7 1736.9,760.6 C1739.0,760.5 1739.0,721.6 1741.5,706.2 C1743.4,694.6 1747.2,686.1 1749.0,676.0 C1750.7,666.0 1749.5,652.7 1752.0,645.8 C1753.5,641.6 1756.3,640.7 1758.1,636.7 C1760.7,630.7 1760.9,616.7 1764.1,612.5 C1765.8,610.3 1768.3,608.4 1770.2,609.0 C1773.1,609.9 1775.7,619.1 1777.7,624.6 C1779.8,630.3 1780.0,642.5 1782.3,642.8 C1784.6,643.1 1788.7,627.5 1791.3,627.6 C1793.6,627.7 1795.8,634.5 1797.4,639.7 C1799.9,647.9 1798.3,666.7 1801.9,673.0 C1803.8,676.4 1807.2,676.2 1809.5,679.0 C1812.5,682.7 1814.2,689.8 1817.0,694.1 C1819.3,697.7 1823.1,703.4 1824.6,703.2 C1825.4,703.1 1825.7,699.9 1826.2,700.0 C1827.5,700.2 1828.4,717.4 1830.0,721.3 C1830.7,723.0 1831.6,722.7 1832.3,724.6 C1834.8,731.0 1836.5,755.7 1838.5,770.8 C1840.4,785.2 1842.1,813.0 1844.0,813.0 C1846.2,813.0 1848.8,773.6 1850.8,755.4 C1852.6,739.2 1852.6,721.6 1855.4,709.2 C1857.4,700.5 1859.7,692.4 1863.1,687.7 C1865.3,684.6 1868.0,683.8 1870.8,681.5 C1874.1,678.8 1878.9,676.2 1881.5,672.3 C1884.2,668.1 1884.7,663.3 1886.2,656.9 C1888.5,646.8 1889.8,629.3 1892.3,616.9 C1894.5,605.9 1896.3,591.3 1900.0,586.2 C1901.8,583.8 1904.3,581.8 1906.2,582.4 C1909.3,583.4 1911.9,592.3 1913.8,601.5 C1918.2,622.9 1915.1,711.5 1916.9,711.5 C1918.4,711.5 1919.9,635.8 1923.1,635.4 C1924.4,635.2 1926.4,642.0 1927.7,647.7 C1930.6,659.8 1931.7,706.2 1933.8,706.2 C1936.2,706.2 1937.6,629.0 1941.5,628.5 C1943.7,628.2 1947.2,641.0 1949.2,650.8 C1952.7,668.1 1952.5,699.7 1953.8,724.6 C1955.1,750.0 1955.7,779.1 1956.9,801.5 C1957.8,818.9 1959.2,828.8 1960.0,847.7 C1961.3,877.7 1960.8,964.0 1962.2,964.0 C1963.3,964.0 1965.5,921.8 1966.5,900.0 C1967.5,877.2 1966.4,844.7 1968.0,830.0 C1968.8,823.1 1969.5,815.2 1971.0,815.0 C1972.1,814.8 1973.9,822.2 1975.0,822.0 C1977.1,821.5 1977.1,801.9 1978.0,790.0 C1979.1,775.0 1978.4,739.6 1981.0,739.0 C1982.0,738.8 1983.5,741.9 1984.5,745.0 C1986.9,752.4 1987.3,786.0 1988.7,786.0 C1990.9,786.0 1991.3,711.4 1995.4,693.8 C1997.1,686.4 1999.8,684.6 2001.5,678.5 C2003.8,670.1 2003.5,648.3 2006.2,647.7 C2007.8,647.3 2010.5,657.2 2012.3,656.9 C2015.6,656.3 2015.8,627.8 2020.0,620.0 C2022.5,615.4 2026.7,610.3 2029.2,610.8 C2032.0,611.4 2033.8,619.6 2035.4,626.2 C2037.9,636.8 2037.7,669.2 2039.1,669.2 C2040.7,669.2 2041.6,629.0 2044.6,616.9 C2046.3,610.1 2048.7,601.4 2050.8,601.5 C2053.4,601.6 2056.5,616.4 2058.5,626.2 C2061.2,639.7 2060.4,675.0 2063.1,675.4 C2064.7,675.6 2065.9,662.1 2069.0,660.0 C2071.1,658.5 2074.3,660.0 2077.0,660.0" stroke="#0070e6" stroke-width="14.2" fill="none" stroke-linejoin="round" stroke-linecap="butt" clip-path="url(#cr)"/>
<path d="M776.5,724.3 C779.2,724.3 781.5,724.6 784.5,724.3 C788.4,723.9 792.8,721.0 798.0,721.3 C805.6,721.7 814.9,729.6 825.3,730.4 C838.4,731.4 857.1,723.2 870.7,722.8 C881.8,722.4 892.9,722.9 900.9,725.9 C907.2,728.2 911.0,736.6 916.0,736.4 C921.1,736.2 925.2,725.2 931.1,724.3 C938.0,723.2 949.1,728.9 955.3,733.4 C960.7,737.3 964.2,742.3 967.4,748.5 C971.2,755.9 972.7,766.2 975.0,775.7 C977.5,786.0 979.4,807.9 981.9,808.0 C984.1,808.1 986.1,789.1 989.0,781.8 C991.2,776.2 993.9,767.7 996.6,767.6 C999.4,767.5 1003.3,775.0 1005.7,781.8 C1010.3,794.6 1010.6,820.9 1013.2,842.2 C1016.1,866.0 1019.3,892.6 1022.3,917.8 C1025.3,943.0 1028.5,969.5 1031.4,993.3 C1034.0,1014.6 1036.9,1036.6 1038.9,1053.8 C1040.4,1066.5 1040.8,1087.0 1042.5,1087.0 C1044.9,1087.1 1049.8,1047.4 1052.5,1023.5 C1056.0,992.8 1057.5,951.7 1060.1,917.8 C1062.5,886.4 1063.7,850.4 1067.6,827.1 C1070.1,812.2 1072.7,801.5 1076.7,790.8 C1080.1,781.7 1084.0,772.3 1088.8,766.6 C1092.4,762.3 1096.6,758.7 1100.9,757.6 C1104.7,756.6 1109.6,757.0 1113.0,759.1 C1116.9,761.5 1119.3,768.6 1122.0,772.7 C1124.2,776.0 1125.8,781.7 1128.1,781.8 C1130.8,781.9 1134.2,773.7 1137.2,769.7 C1140.2,765.7 1142.9,760.7 1146.2,757.6 C1149.0,754.9 1152.7,754.2 1155.3,751.5 C1158.3,748.4 1160.0,740.0 1162.8,739.5 C1165.1,739.1 1167.6,745.5 1170.4,745.5 C1174.0,745.5 1177.9,736.6 1182.5,735.9 C1187.6,735.1 1197.0,742.9 1200.0,742.5 C1201.1,742.4 1201.1,741.0 1202.1,741.0 C1204.3,741.0 1209.8,744.9 1212.7,748.5 C1216.2,752.9 1218.2,758.3 1220.2,766.6 C1224.1,783.0 1224.6,815.8 1226.3,842.2 C1228.2,871.0 1229.0,907.1 1230.8,932.9 C1232.1,952.2 1231.2,981.6 1235.3,983.3 C1236.9,984.0 1239.7,981.5 1241.4,978.2 C1246.5,968.1 1244.5,928.9 1245.9,902.6 C1247.5,873.8 1248.2,837.5 1250.4,812.0 C1252.0,793.3 1252.6,774.9 1256.5,763.6 C1258.8,756.8 1261.6,752.1 1265.5,748.5 C1268.9,745.4 1273.8,743.9 1277.6,742.5 C1280.8,741.4 1284.1,739.4 1286.7,740.4 C1289.8,741.6 1292.1,746.9 1294.3,751.5 C1297.4,757.9 1298.9,776.1 1301.8,776.3 C1304.5,776.5 1306.9,758.3 1310.9,756.1 C1313.5,754.7 1317.7,755.4 1320.0,757.6 C1324.1,761.5 1322.5,783.8 1326.0,784.8 C1328.4,785.5 1332.8,774.9 1335.1,775.7 C1339.1,777.0 1339.3,798.3 1341.1,812.0 C1343.4,829.6 1344.8,852.3 1347.1,872.4 C1349.4,892.6 1352.2,914.9 1354.7,932.9 C1356.7,947.6 1358.4,972.7 1360.7,972.7 C1363.0,972.7 1366.2,948.3 1368.3,932.9 C1371.1,911.8 1372.2,881.1 1374.3,857.3 C1376.2,836.0 1377.7,814.4 1380.4,796.9 C1382.5,783.2 1383.4,768.3 1387.9,760.6 C1390.7,755.9 1395.1,753.6 1398.5,751.5 C1401.1,749.9 1404.2,747.9 1406.1,748.5 C1407.9,749.1 1408.7,751.8 1410.0,754.6 C1412.2,759.4 1414.5,767.7 1416.6,775.7 C1419.3,786.1 1421.8,799.4 1424.2,812.0 C1426.8,825.7 1429.3,854.9 1431.7,854.9 C1433.8,854.9 1434.5,826.0 1437.8,821.0 C1439.1,819.0 1441.0,817.5 1442.3,818.0 C1445.1,819.1 1446.7,832.2 1448.4,842.2 C1451.1,857.7 1452.4,882.5 1454.4,902.6 C1456.4,922.8 1458.2,944.4 1460.4,963.1 C1462.3,979.3 1464.4,993.8 1466.5,1008.4 C1468.4,1022.0 1468.3,1041.1 1472.5,1047.7 C1474.5,1050.9 1478.0,1053.6 1480.1,1052.8 C1484.0,1051.3 1485.1,1033.3 1487.6,1023.5 C1490.1,1013.5 1492.2,1001.7 1495.2,993.3 C1497.5,986.9 1500.6,976.7 1502.8,977.0 C1506.5,977.5 1508.2,1010.7 1511.0,1028.0 C1513.9,1046.0 1516.6,1065.6 1519.8,1082.9 C1522.7,1098.4 1526.9,1127.2 1529.1,1127.0 C1531.5,1126.8 1531.6,1090.2 1533.0,1071.9 C1534.4,1053.6 1535.3,1029.5 1537.4,1017.0 C1538.5,1010.4 1539.7,1002.0 1541.2,1002.0 C1543.2,1002.0 1546.9,1019.6 1548.4,1028.0 C1549.8,1035.6 1549.1,1049.8 1550.5,1050.0 C1551.8,1050.1 1553.2,1035.4 1556.0,1033.4 C1557.5,1032.3 1559.6,1033.4 1561.5,1033.4 C1563.6,1033.4 1566.2,1034.2 1568.1,1033.4 C1570.1,1032.5 1571.8,1030.9 1573.1,1028.0 C1575.8,1021.9 1575.0,1006.0 1575.8,995.0 C1576.6,984.0 1577.0,975.4 1578.0,962.0 C1579.5,940.9 1581.0,881.2 1584.3,880.9 C1586.0,880.7 1588.9,893.1 1590.4,902.6 C1593.1,919.6 1591.0,959.8 1593.4,975.0 C1594.5,982.2 1595.6,989.7 1597.8,990.5 C1599.1,991.0 1601.1,989.3 1602.5,987.3 C1605.7,982.5 1605.8,964.7 1608.5,957.0 C1610.2,951.9 1612.8,944.9 1614.6,945.0 C1616.5,945.1 1618.1,953.9 1619.6,960.0 C1621.8,968.8 1623.3,981.3 1625.1,993.3 C1627.2,1007.2 1629.0,1023.4 1631.2,1038.6 C1633.5,1054.1 1636.0,1085.4 1638.7,1085.5 C1641.2,1085.6 1644.3,1060.4 1646.7,1047.8 C1649.1,1035.1 1651.3,1025.6 1653.0,1009.6 C1655.9,983.0 1655.6,935.1 1658.4,902.6 C1660.7,875.2 1664.1,848.0 1667.4,827.1 C1669.8,812.1 1672.1,789.0 1675.0,788.8 C1677.3,788.7 1680.6,801.6 1682.5,812.0 C1686.2,832.1 1685.9,871.0 1687.1,902.6 C1688.5,937.2 1688.6,1011.4 1690.1,1011.4 C1691.4,1011.4 1693.4,957.8 1695.0,930.0 C1696.7,900.8 1697.4,864.6 1700.0,840.0 C1701.8,822.8 1704.4,796.3 1706.7,796.3 C1708.6,796.3 1711.1,814.4 1712.7,827.1 C1715.2,847.3 1714.4,906.0 1717.3,906.2 C1719.2,906.4 1720.9,874.3 1724.8,872.4 C1726.5,871.6 1729.2,873.2 1730.9,875.4 C1734.5,880.1 1735.1,905.8 1736.9,905.7 C1739.2,905.6 1740.7,871.5 1743.0,857.3 C1744.8,846.0 1746.8,836.2 1749.0,827.1 C1750.9,819.4 1752.6,811.4 1755.1,806.0 C1756.9,802.2 1759.5,801.0 1761.1,796.9 C1763.6,790.4 1762.6,774.9 1765.6,769.7 C1767.2,766.9 1769.9,764.2 1771.7,764.6 C1774.2,765.2 1775.6,774.2 1777.7,778.7 C1779.7,782.9 1781.4,790.5 1783.8,790.8 C1786.0,791.1 1789.2,781.3 1791.3,781.8 C1794.8,782.6 1795.9,803.8 1798.9,812.0 C1801.1,818.0 1804.3,821.0 1806.4,827.1 C1809.2,835.3 1810.6,846.7 1812.5,857.3 C1814.6,869.1 1816.4,883.2 1818.5,895.0 C1820.4,905.6 1822.5,916.9 1824.6,925.0 C1826.1,930.7 1827.7,939.3 1829.2,939.2 C1831.3,939.1 1832.3,916.8 1835.4,909.2 C1837.5,904.0 1841.0,902.3 1843.1,896.9 C1846.3,888.6 1846.3,869.6 1849.2,863.0 C1850.5,859.9 1852.4,856.6 1853.8,856.9 C1856.6,857.5 1857.8,887.7 1860.0,887.7 C1862.4,887.7 1864.1,854.8 1867.7,853.8 C1869.5,853.3 1871.9,857.3 1873.8,860.0 C1876.5,863.8 1879.5,875.8 1881.5,875.4 C1884.6,874.8 1884.8,848.0 1886.2,832.3 C1887.9,813.6 1884.8,778.5 1890.8,770.8 C1893.2,767.7 1897.5,770.1 1900.0,767.7 C1903.7,764.3 1904.8,755.5 1907.7,749.2 C1910.9,742.4 1915.7,728.1 1918.5,728.5 C1921.5,728.9 1922.9,746.1 1924.6,755.4 C1926.5,765.3 1927.8,774.9 1929.2,786.2 C1930.9,800.0 1931.1,823.0 1933.8,832.3 C1935.1,836.7 1937.2,841.8 1938.5,841.5 C1941.6,840.9 1940.9,783.2 1943.1,783.1 C1944.8,783.0 1947.6,802.8 1949.2,816.9 C1951.9,840.0 1952.5,878.4 1953.8,909.2 C1955.1,940.0 1955.7,968.9 1956.9,1001.5 C1958.3,1038.3 1959.2,1118.8 1961.8,1118.9 C1964.1,1119.0 1968.1,1058.0 1970.8,1032.3 C1973.0,1011.8 1974.9,996.3 1976.9,976.9 C1979.1,955.5 1980.8,929.6 1983.1,909.2 C1985.0,892.3 1987.4,877.9 1989.2,863.0 C1990.9,849.2 1990.2,824.1 1993.8,823.0 C1995.8,822.4 1999.6,832.9 2001.5,832.3 C2004.9,831.2 2001.7,802.9 2004.6,792.3 C2006.7,784.7 2010.5,779.2 2013.8,773.8 C2016.7,769.1 2019.8,764.0 2023.1,761.5 C2025.5,759.7 2028.7,757.3 2030.8,758.5 C2035.7,761.4 2034.8,804.6 2036.9,804.6 C2038.9,804.6 2038.7,766.9 2043.1,761.5 C2044.8,759.4 2047.5,758.3 2049.2,759.3 C2053.5,761.9 2053.9,786.7 2055.4,801.5 C2057.1,817.8 2056.6,852.9 2058.5,853.0 C2059.7,853.1 2061.8,840.1 2063.1,832.3 C2064.8,822.4 2062.9,802.2 2067.0,798.5 C2069.0,796.7 2072.3,798.5 2075.0,798.5" stroke="#00b06a" stroke-width="14.2" fill="none" stroke-linejoin="round" stroke-linecap="butt" clip-path="url(#cr)"/>
<path d="M776.8,1003.2 C779.5,1003.2 781.1,1003.2 784.8,1003.2 C793.1,1003.3 811.4,1004.7 825.3,1003.9 C840.0,1003.0 855.5,999.1 870.7,997.8 C885.8,996.5 902.1,995.3 916.0,996.3 C928.0,997.2 940.5,999.1 949.2,1002.4 C955.5,1004.8 960.4,1006.7 964.3,1011.4 C969.0,1017.0 970.9,1027.2 973.4,1035.6 C976.0,1044.3 977.6,1055.4 979.5,1062.8 C980.8,1068.0 981.8,1076.0 983.2,1076.0 C985.7,1075.9 987.9,1041.3 992.8,1035.0 C995.1,1032.1 998.4,1030.1 1000.7,1031.0 C1004.2,1032.3 1006.4,1042.3 1008.7,1051.0 C1012.5,1065.6 1014.1,1091.1 1016.7,1111.6 C1019.4,1132.6 1022.1,1152.9 1024.6,1175.4 C1027.4,1200.5 1030.1,1230.0 1032.6,1255.1 C1034.9,1277.5 1036.7,1302.0 1039.0,1318.9 C1040.5,1330.2 1042.0,1347.0 1043.8,1347.0 C1046.1,1347.0 1049.5,1319.0 1051.7,1302.9 C1054.4,1283.7 1055.8,1261.6 1058.1,1239.2 C1060.6,1214.1 1063.2,1186.0 1066.1,1159.4 C1069.0,1132.8 1071.3,1099.5 1075.7,1079.7 C1078.4,1067.6 1081.2,1059.5 1085.2,1051.0 C1088.8,1043.5 1092.5,1033.8 1098.0,1031.0 C1102.5,1028.7 1109.7,1029.4 1113.9,1031.9 C1118.4,1034.6 1120.7,1042.6 1123.5,1047.8 C1126.0,1052.5 1127.3,1061.4 1129.9,1061.6 C1132.6,1061.8 1136.4,1051.4 1139.4,1047.8 C1141.6,1045.2 1143.5,1041.5 1145.8,1041.5 C1148.3,1041.5 1151.3,1049.7 1153.8,1049.4 C1156.8,1049.0 1159.0,1040.0 1161.8,1035.1 C1164.8,1029.9 1167.2,1022.6 1171.3,1019.1 C1174.9,1016.1 1179.5,1015.1 1184.1,1014.3 C1189.0,1013.4 1195.0,1014.6 1200.0,1014.3 C1204.4,1014.0 1208.7,1011.6 1212.3,1012.8 C1216.1,1014.1 1219.4,1017.4 1221.9,1022.3 C1226.3,1030.9 1226.6,1048.4 1228.3,1063.8 C1230.5,1082.8 1229.4,1114.7 1233.0,1127.6 C1234.7,1133.7 1237.8,1134.4 1239.4,1140.3 C1242.4,1151.4 1241.7,1171.6 1242.6,1191.3 C1243.9,1218.2 1244.4,1257.6 1245.8,1287.0 C1247.0,1312.2 1248.6,1357.0 1250.0,1357.0 C1251.9,1357.0 1253.7,1267.3 1255.4,1223.2 C1257.1,1180.2 1257.2,1129.8 1260.2,1095.7 C1262.2,1072.7 1262.4,1049.3 1268.1,1038.3 C1271.0,1032.6 1275.5,1028.4 1279.3,1027.7 C1282.4,1027.2 1286.4,1029.0 1288.9,1031.9 C1292.8,1036.5 1292.7,1050.3 1295.2,1057.4 C1297.1,1062.8 1299.5,1071.2 1301.6,1071.0 C1304.4,1070.8 1306.7,1052.6 1309.6,1044.6 C1312.1,1037.6 1314.0,1028.3 1317.6,1025.5 C1319.9,1023.8 1323.0,1023.7 1325.5,1024.5 C1328.4,1025.4 1331.4,1027.8 1333.5,1031.9 C1338.0,1040.6 1337.9,1062.6 1339.9,1079.7 C1342.2,1099.4 1344.2,1121.0 1346.2,1143.5 C1348.4,1168.6 1350.3,1198.1 1352.6,1223.2 C1354.6,1245.7 1356.0,1282.2 1359.0,1287.0 C1359.5,1287.8 1360.1,1288.2 1360.6,1288.0 C1363.2,1286.8 1365.3,1258.8 1367.0,1239.2 C1369.6,1209.6 1369.2,1157.0 1371.8,1127.6 C1373.5,1108.3 1375.8,1094.4 1378.1,1079.7 C1380.1,1067.1 1381.0,1053.8 1384.5,1044.6 C1387.0,1038.0 1390.3,1031.8 1394.1,1028.7 C1396.9,1026.4 1400.8,1026.7 1403.6,1025.5 C1406.0,1024.5 1408.1,1021.4 1410.0,1022.3 C1414.6,1024.5 1416.3,1048.4 1419.1,1063.8 C1422.6,1082.9 1425.2,1128.3 1428.7,1128.5 C1431.2,1128.6 1433.6,1106.0 1436.7,1095.7 C1439.5,1086.3 1443.3,1069.1 1446.2,1069.2 C1449.1,1069.3 1452.0,1084.8 1454.2,1095.7 C1457.5,1112.2 1458.5,1138.2 1460.6,1159.4 C1462.7,1180.7 1464.9,1201.9 1467.0,1223.2 C1469.1,1244.5 1471.2,1265.7 1473.3,1287.0 C1475.4,1308.3 1477.2,1335.2 1479.7,1350.8 C1481.2,1360.0 1482.7,1372.5 1484.5,1372.5 C1486.8,1372.5 1489.8,1347.2 1492.5,1334.8 C1495.1,1322.7 1497.8,1298.8 1500.4,1298.8 C1503.1,1298.8 1505.9,1325.2 1508.4,1334.8 C1510.1,1341.2 1511.7,1350.9 1513.2,1350.8 C1515.5,1350.7 1517.5,1315.8 1519.6,1315.7 C1521.2,1315.6 1522.9,1327.9 1524.4,1334.8 C1526.1,1342.9 1527.8,1361.4 1529.1,1361.3 C1531.3,1361.2 1532.3,1311.4 1533.9,1287.0 C1535.5,1263.3 1534.9,1230.6 1538.7,1216.8 C1540.4,1210.6 1542.2,1205.2 1545.1,1204.1 C1547.3,1203.3 1550.9,1204.4 1553.1,1207.3 C1559.0,1215.1 1556.6,1254.6 1559.4,1271.0 C1561.2,1281.5 1562.5,1292.0 1565.8,1296.6 C1567.6,1299.1 1570.4,1301.6 1572.2,1300.7 C1577.9,1297.9 1576.7,1248.5 1578.6,1223.2 C1580.4,1199.0 1581.1,1152.2 1583.4,1152.1 C1585.1,1152.0 1588.2,1175.9 1589.7,1191.3 C1591.9,1213.1 1589.4,1257.5 1592.9,1271.0 C1594.2,1276.0 1595.0,1278.5 1597.7,1280.6 C1600.7,1283.0 1606.6,1282.6 1610.5,1283.8 C1613.9,1284.8 1618.4,1285.3 1620.0,1287.0 C1621.0,1288.1 1620.7,1291.0 1621.2,1291.0 C1622.9,1290.9 1627.0,1257.4 1629.1,1239.2 C1631.4,1219.1 1632.0,1196.7 1633.9,1175.4 C1635.8,1154.1 1637.2,1129.1 1640.3,1111.6 C1642.5,1099.0 1645.2,1089.7 1648.3,1079.7 C1651.1,1070.6 1654.1,1062.6 1657.8,1054.2 C1661.5,1045.6 1666.0,1033.0 1670.6,1028.7 C1673.2,1026.4 1676.3,1024.5 1678.6,1025.5 C1682.3,1027.2 1684.5,1039.5 1686.5,1047.8 C1688.9,1057.6 1689.8,1080.7 1691.3,1080.7 C1693.1,1080.7 1693.5,1044.5 1696.1,1031.9 C1697.8,1023.6 1700.1,1011.9 1702.5,1011.8 C1704.9,1011.7 1708.4,1023.1 1710.4,1031.9 C1713.9,1047.0 1713.8,1074.9 1715.2,1095.7 C1716.5,1115.6 1716.3,1153.9 1718.4,1154.0 C1720.0,1154.1 1722.0,1121.6 1724.8,1121.2 C1726.6,1120.9 1729.5,1128.8 1731.2,1133.9 C1733.5,1140.8 1734.6,1159.5 1736.0,1159.4 C1738.1,1159.3 1737.9,1111.4 1740.7,1095.7 C1742.4,1086.2 1745.2,1080.8 1747.1,1073.3 C1749.0,1065.9 1748.6,1054.9 1751.9,1051.0 C1753.9,1048.6 1757.8,1050.2 1759.9,1047.8 C1763.6,1043.5 1763.0,1026.9 1766.3,1022.3 C1768.1,1019.8 1770.5,1017.7 1772.6,1018.2 C1775.9,1019.0 1779.1,1035.3 1782.2,1035.1 C1785.6,1034.9 1789.3,1013.1 1791.8,1013.4 C1794.9,1013.8 1795.9,1036.6 1798.1,1047.8 C1800.2,1058.6 1802.8,1067.2 1804.5,1079.7 C1806.9,1097.3 1807.7,1122.6 1809.3,1143.5 C1810.9,1163.8 1812.6,1203.5 1814.1,1203.5 C1815.8,1203.5 1817.3,1147.5 1818.9,1127.6 C1819.9,1114.7 1820.7,1095.7 1822.0,1095.7 C1823.3,1095.7 1825.5,1117.0 1826.8,1127.6 C1828.1,1138.2 1828.4,1159.3 1830.0,1159.4 C1831.5,1159.5 1834.1,1133.7 1835.9,1133.8 C1838.5,1134.0 1839.4,1190.8 1842.3,1191.2 C1843.7,1191.4 1845.4,1182.4 1847.1,1178.5 C1848.6,1175.0 1850.6,1168.7 1851.9,1168.9 C1854.4,1169.3 1855.3,1194.1 1856.6,1207.1 C1857.9,1220.5 1858.6,1247.9 1859.8,1247.9 C1861.2,1247.9 1863.1,1211.7 1864.6,1191.2 C1866.4,1166.9 1867.2,1134.7 1869.4,1111.5 C1871.1,1093.5 1873.4,1077.6 1875.8,1063.7 C1877.7,1052.9 1878.9,1041.0 1882.1,1035.1 C1883.9,1031.8 1886.5,1031.7 1888.5,1028.7 C1891.6,1024.0 1893.2,1008.6 1896.5,1008.0 C1899.2,1007.5 1903.2,1019.3 1906.0,1019.1 C1908.4,1019.0 1910.2,1009.4 1912.4,1009.6 C1915.5,1009.9 1919.9,1023.6 1922.0,1031.9 C1924.5,1041.4 1923.9,1063.7 1925.2,1063.7 C1926.5,1063.7 1928.7,1031.8 1929.9,1031.9 C1932.1,1032.0 1931.4,1133.2 1933.1,1133.2 C1934.7,1133.2 1936.3,1048.1 1939.5,1047.8 C1940.9,1047.6 1943.0,1056.5 1944.3,1063.7 C1946.9,1077.8 1947.6,1105.1 1949.1,1127.5 C1950.8,1152.6 1952.2,1180.6 1953.8,1207.1 C1955.4,1233.7 1957.4,1260.4 1958.6,1286.8 C1959.8,1313.0 1959.7,1365.0 1961.0,1365.0 C1962.3,1365.0 1964.8,1311.5 1966.6,1286.8 C1968.2,1264.5 1969.9,1245.5 1971.4,1223.1 C1973.1,1198.0 1973.9,1166.6 1976.1,1143.4 C1977.8,1125.4 1980.1,1109.9 1982.5,1095.6 C1984.5,1083.9 1986.3,1072.4 1988.9,1063.7 C1990.8,1057.4 1993.2,1053.1 1995.3,1047.8 C1997.4,1042.5 1999.0,1037.1 2001.6,1031.9 C2004.3,1026.5 2007.3,1017.3 2011.2,1015.9 C2014.0,1014.8 2018.3,1016.6 2020.8,1019.1 C2024.3,1022.6 2024.9,1032.1 2027.1,1038.2 C2029.1,1043.8 2031.6,1054.4 2033.5,1054.2 C2036.0,1054.0 2037.2,1033.9 2039.9,1025.5 C2042.1,1018.5 2045.6,1006.7 2047.8,1007.0 C2051.6,1007.5 2053.8,1042.3 2055.8,1063.7 C2058.4,1091.4 2058.7,1137.6 2060.6,1159.3 C2061.6,1170.5 2062.8,1184.8 2063.8,1184.8 C2065.7,1184.7 2061.5,1097.1 2069.0,1090.0 C2071.2,1087.9 2074.3,1090.0 2077.0,1090.0" stroke="#c27ae4" stroke-width="14.2" fill="none" stroke-linejoin="round" stroke-linecap="butt" clip-path="url(#cr)"/>
<path d="M776.8,1156.3 C779.5,1156.3 781.1,1156.4 784.8,1156.3 C793.4,1156.0 814.5,1153.5 827.8,1153.0 C839.2,1152.6 849.1,1151.9 859.7,1153.0 C870.4,1154.1 880.5,1159.4 891.6,1159.4 C903.8,1159.4 918.5,1150.9 929.9,1151.5 C939.3,1152.0 948.1,1156.1 955.4,1159.4 C961.5,1162.1 967.6,1164.2 971.3,1169.0 C975.4,1174.4 976.0,1182.7 977.7,1191.3 C980.0,1202.5 980.1,1230.4 982.5,1230.6 C984.4,1230.8 986.5,1214.6 989.6,1207.3 C992.6,1200.1 997.1,1187.3 1000.7,1187.0 C1003.4,1186.8 1006.5,1192.3 1008.7,1197.7 C1013.3,1208.9 1014.1,1235.5 1016.7,1255.1 C1019.4,1275.8 1022.2,1297.6 1024.6,1318.9 C1027.0,1340.2 1028.9,1361.4 1031.0,1382.7 C1033.1,1403.9 1035.1,1427.0 1037.4,1446.4 C1039.4,1462.9 1041.6,1492.0 1043.8,1492.0 C1046.3,1492.0 1049.4,1452.4 1051.7,1430.5 C1054.3,1405.7 1056.0,1377.4 1058.1,1350.8 C1060.2,1324.2 1061.9,1296.1 1064.5,1271.0 C1066.8,1248.5 1067.8,1224.1 1072.5,1207.3 C1075.8,1195.6 1079.5,1183.2 1085.2,1178.6 C1088.9,1175.7 1093.5,1176.5 1098.0,1176.0 C1103.0,1175.4 1109.7,1173.1 1113.9,1175.4 C1118.4,1177.8 1120.7,1186.3 1123.5,1191.3 C1125.9,1195.6 1126.9,1202.2 1129.9,1203.5 C1132.4,1204.6 1136.5,1202.9 1139.4,1200.9 C1143.1,1198.4 1145.3,1190.7 1149.0,1188.1 C1151.9,1186.0 1155.8,1187.4 1158.6,1185.0 C1162.7,1181.5 1163.8,1170.0 1168.1,1165.8 C1171.6,1162.4 1176.1,1160.3 1180.9,1160.0 C1186.6,1159.6 1194.8,1164.1 1200.0,1165.8 C1203.6,1167.0 1206.1,1166.9 1209.1,1169.0 C1213.5,1172.1 1218.8,1178.0 1221.9,1185.0 C1226.2,1194.6 1226.7,1208.8 1228.3,1223.2 C1230.3,1241.7 1230.5,1263.6 1231.5,1287.0 C1232.7,1315.7 1233.2,1383.0 1234.6,1383.0 C1235.9,1383.0 1237.7,1300.0 1239.4,1300.0 C1241.4,1300.0 1243.7,1375.1 1245.8,1414.5 C1248.0,1456.5 1250.3,1544.7 1252.2,1544.7 C1254.1,1544.7 1255.4,1457.7 1257.0,1414.5 C1258.6,1371.8 1259.7,1322.2 1261.7,1287.0 C1263.1,1262.1 1263.4,1239.5 1266.5,1223.2 C1268.5,1212.6 1270.0,1201.4 1274.5,1197.7 C1277.4,1195.3 1282.6,1195.3 1285.7,1196.7 C1289.1,1198.2 1291.4,1202.8 1293.6,1207.3 C1296.6,1213.3 1297.8,1230.6 1300.0,1230.6 C1302.6,1230.6 1304.9,1207.1 1308.0,1197.7 C1310.4,1190.4 1312.2,1181.9 1316.0,1178.6 C1318.6,1176.3 1322.7,1174.9 1325.5,1176.0 C1329.3,1177.5 1332.6,1184.4 1335.1,1191.3 C1339.2,1202.5 1339.5,1222.1 1341.5,1239.2 C1343.8,1258.9 1345.8,1280.5 1347.8,1302.9 C1350.0,1328.0 1351.7,1359.6 1354.2,1382.7 C1356.1,1400.5 1358.5,1429.9 1360.6,1429.9 C1362.7,1429.9 1365.1,1401.2 1367.0,1382.7 C1369.7,1356.4 1371.0,1315.7 1373.4,1287.0 C1375.3,1263.6 1377.1,1240.8 1379.7,1223.2 C1381.6,1210.7 1382.1,1198.0 1386.1,1191.3 C1388.6,1187.2 1392.6,1185.6 1395.7,1183.4 C1398.4,1181.5 1401.0,1179.7 1403.6,1178.6 C1405.8,1177.7 1408.2,1176.0 1410.0,1177.0 C1413.2,1178.8 1414.0,1189.6 1415.9,1197.7 C1418.6,1209.1 1421.2,1225.4 1423.9,1239.2 C1426.6,1252.9 1429.3,1280.0 1431.9,1280.0 C1434.6,1280.0 1435.2,1243.5 1439.9,1236.0 C1442.1,1232.5 1445.5,1229.5 1447.8,1230.2 C1451.5,1231.4 1453.8,1244.7 1455.8,1255.1 C1459.0,1271.3 1458.7,1297.6 1460.6,1318.9 C1462.5,1340.2 1464.9,1364.2 1467.0,1382.7 C1468.6,1397.1 1467.5,1417.2 1471.7,1420.9 C1473.4,1422.4 1476.3,1419.5 1478.1,1420.9 C1481.7,1423.7 1482.6,1436.5 1484.5,1446.4 C1487.1,1459.8 1486.8,1486.1 1490.9,1494.3 C1492.7,1497.8 1495.1,1498.2 1497.3,1500.6 C1499.9,1503.4 1502.4,1507.4 1505.2,1510.2 C1507.7,1512.7 1511.0,1517.4 1513.2,1516.6 C1517.4,1515.1 1518.7,1480.5 1521.2,1480.5 C1523.5,1480.5 1526.0,1500.0 1527.6,1510.2 C1529.2,1520.8 1529.6,1543.0 1530.7,1543.0 C1532.2,1543.0 1533.9,1499.8 1535.5,1478.3 C1537.1,1457.0 1537.6,1430.9 1540.3,1414.5 C1542.0,1404.0 1543.4,1393.6 1546.7,1389.0 C1548.5,1386.5 1551.3,1384.2 1553.1,1384.9 C1556.6,1386.4 1557.4,1404.0 1559.4,1414.5 C1561.7,1426.4 1562.3,1445.3 1565.8,1452.8 C1567.6,1456.6 1570.4,1460.8 1572.2,1460.2 C1578.2,1458.2 1576.1,1377.7 1578.6,1350.8 C1580.1,1334.9 1581.6,1313.1 1583.4,1313.1 C1585.3,1313.1 1588.0,1336.6 1589.7,1350.8 C1591.9,1369.2 1591.8,1398.1 1594.5,1414.5 C1596.2,1425.0 1597.1,1434.7 1600.9,1440.0 C1603.4,1443.5 1607.3,1444.3 1610.5,1446.4 C1613.6,1448.4 1618.6,1451.2 1619.6,1452.2 C1619.9,1452.5 1619.8,1452.8 1620.0,1452.8 C1621.2,1452.6 1625.4,1428.9 1627.5,1414.5 C1630.2,1396.0 1631.8,1372.0 1633.9,1350.8 C1636.0,1329.5 1637.7,1306.7 1640.3,1287.0 C1642.6,1269.9 1644.6,1252.0 1648.3,1239.2 C1650.9,1230.1 1654.3,1223.9 1657.8,1216.8 C1661.2,1210.1 1664.8,1201.9 1669.0,1197.7 C1672.0,1194.7 1676.0,1190.9 1678.6,1192.0 C1683.0,1193.8 1684.3,1213.0 1686.5,1223.2 C1688.5,1232.8 1689.8,1251.3 1691.3,1251.3 C1693.5,1251.2 1694.0,1203.5 1697.7,1191.3 C1699.5,1185.5 1702.2,1178.9 1704.1,1179.2 C1707.5,1179.7 1710.0,1207.1 1712.0,1223.2 C1714.4,1242.4 1714.8,1273.1 1716.8,1287.0 C1717.8,1293.9 1718.8,1302.3 1720.0,1302.3 C1721.8,1302.3 1723.0,1272.0 1726.4,1271.0 C1728.2,1270.5 1731.1,1274.2 1732.8,1277.4 C1735.7,1282.8 1736.2,1303.1 1737.6,1303.0 C1739.6,1302.9 1739.4,1263.3 1742.3,1248.7 C1744.3,1238.5 1748.1,1231.1 1750.3,1223.2 C1752.2,1216.4 1752.0,1207.6 1755.1,1204.1 C1757.1,1201.8 1760.8,1203.2 1763.1,1200.9 C1766.8,1197.1 1767.2,1180.3 1771.0,1179.2 C1774.0,1178.4 1778.8,1188.5 1782.2,1188.1 C1785.7,1187.7 1789.2,1175.4 1791.8,1176.0 C1795.6,1176.8 1797.5,1197.4 1799.7,1207.3 C1801.7,1216.2 1802.8,1224.6 1804.5,1232.8 C1806.1,1240.5 1807.9,1245.7 1809.3,1255.1 C1811.6,1270.8 1812.7,1298.6 1814.1,1318.9 C1815.4,1337.5 1816.0,1372.5 1817.3,1372.5 C1818.6,1372.5 1819.8,1332.2 1822.0,1318.9 C1823.4,1310.8 1825.1,1299.9 1826.8,1299.7 C1827.8,1299.6 1829.1,1303.5 1830.0,1306.1 C1831.2,1309.5 1831.6,1313.5 1832.7,1318.7 C1834.4,1326.9 1836.8,1340.9 1839.1,1350.5 C1841.1,1358.6 1842.3,1371.4 1845.5,1372.8 C1847.3,1373.6 1850.2,1368.8 1851.9,1369.7 C1855.3,1371.5 1855.3,1388.1 1856.6,1398.3 C1858.1,1410.0 1858.6,1436.0 1859.8,1436.0 C1861.2,1436.0 1863.2,1402.8 1864.6,1382.4 C1866.5,1355.1 1867.1,1310.1 1869.4,1286.8 C1870.8,1273.3 1872.4,1266.0 1874.2,1254.9 C1876.1,1242.7 1877.5,1225.9 1880.5,1216.7 C1882.3,1211.1 1884.8,1208.2 1886.9,1203.9 C1889.0,1199.7 1891.1,1196.2 1893.3,1191.2 C1896.4,1184.2 1898.8,1171.3 1902.9,1165.7 C1905.7,1162.0 1909.6,1157.7 1912.4,1158.4 C1916.2,1159.3 1919.7,1170.2 1922.0,1178.5 C1925.3,1190.2 1925.1,1209.5 1926.8,1223.1 C1928.3,1234.6 1930.0,1243.7 1931.5,1254.9 C1933.2,1267.3 1934.9,1294.1 1936.3,1294.1 C1938.5,1294.0 1934.9,1203.5 1941.1,1197.6 C1942.5,1196.3 1944.6,1196.4 1945.9,1197.6 C1950.6,1201.9 1949.4,1233.4 1950.7,1254.9 C1952.3,1282.7 1952.8,1318.6 1953.8,1350.5 C1954.9,1382.4 1955.8,1415.9 1957.0,1446.1 C1958.1,1473.4 1959.4,1524.0 1960.6,1524.0 C1962.0,1524.0 1963.2,1445.9 1965.0,1414.3 C1966.4,1390.2 1966.6,1364.5 1969.8,1350.5 C1971.5,1343.3 1974.2,1340.6 1976.1,1334.6 C1978.5,1327.2 1980.5,1318.5 1982.5,1309.1 C1984.9,1297.7 1987.1,1284.4 1988.9,1270.9 C1990.9,1255.9 1990.9,1234.6 1993.7,1223.1 C1995.4,1216.2 1998.2,1213.0 2000.0,1207.1 C2002.0,1200.4 2002.4,1190.5 2004.8,1184.8 C2006.5,1180.8 2008.8,1175.9 2011.2,1175.3 C2013.1,1174.8 2015.7,1176.6 2017.6,1178.5 C2020.2,1181.1 2021.7,1187.3 2023.9,1191.2 C2025.9,1194.7 2028.1,1196.8 2030.3,1200.8 C2033.4,1206.6 2037.4,1223.5 2039.9,1223.1 C2043.5,1222.6 2042.1,1173.5 2046.3,1172.1 C2048.0,1171.5 2050.9,1174.9 2052.6,1178.5 C2056.6,1187.1 2053.7,1218.3 2057.4,1229.4 C2059.4,1235.4 2063.2,1239.0 2065.4,1242.2 C2066.8,1244.2 2067.3,1246.1 2069.0,1247.0 C2071.0,1248.0 2074.3,1247.0 2077.0,1247.0" stroke="#dd9b00" stroke-width="14.2" fill="none" stroke-linejoin="round" stroke-linecap="butt" clip-path="url(#cr)"/>
</g>
<g id="ell">
<ellipse cx="1092" cy="365" rx="30" ry="191" transform="rotate(0.8 1092 365)" fill="none" stroke="#ff0000" stroke-width="7" stroke-dasharray="22 14"/>
<ellipse cx="1197" cy="338" rx="28" ry="186" transform="rotate(0 1197 338)" fill="none" stroke="#ff0000" stroke-width="7" stroke-dasharray="22 14"/>
<ellipse cx="1408.6" cy="385.6" rx="33" ry="192" transform="rotate(0 1408.6 385.6)" fill="none" stroke="#ff0000" stroke-width="7" stroke-dasharray="22 14"/>
<ellipse cx="1435.5" cy="965.5" rx="38" ry="370" transform="rotate(0 1435.5 965.5)" fill="none" stroke="#ff0000" stroke-width="7" stroke-dasharray="22 14"/>
<ellipse cx="1638" cy="938" rx="35" ry="176" transform="rotate(1 1638 938)" fill="none" stroke="#ff0000" stroke-width="7" stroke-dasharray="22 14"/>
<ellipse cx="1625" cy="1305" rx="30" ry="178" transform="rotate(0 1625 1305)" fill="none" stroke="#ff0000" stroke-width="7" stroke-dasharray="22 14"/>
</g>
<g id="extras">
<line x1="641.6" y1="421.3" x2="678.8" y2="443.3" stroke="#000" stroke-width="3"/>
<polygon points="715,464.7 671.7,451.6 682.6,433.1" fill="#000"/>
<line x1="1110.6" y1="194.2" x2="1119.9" y2="165.9" stroke="#000" stroke-width="3"/>
<polygon points="1133,126 1129.5,171.2 1109.1,164.4" fill="#000"/>
<line x1="1224.1" y1="182.4" x2="1389.3" y2="140.7" stroke="#000" stroke-width="3"/>
<polygon points="1430,130.4 1390.0,151.6 1384.7,130.8" fill="#000"/>
<line x1="1431.2" y1="197.2" x2="1493.7" y2="152.0" stroke="#000" stroke-width="3"/>
<polygon points="1527.7,127.4 1498.3,161.9 1485.7,144.5" fill="#000"/>
<line x1="1619.2" y1="764.2" x2="1612.3" y2="729.3" stroke="#000" stroke-width="3"/>
<polygon points="1604.2,688.1 1623.3,729.2 1602.2,733.3" fill="#000"/>
<line x1="974.5" y1="1419.3" x2="880.0" y2="1464.9" stroke="#000" stroke-width="3"/>
<polygon points="842.2,1483.1 877.2,1454.3 886.5,1473.7" fill="#000"/>
<line x1="1033.3" y1="1473.8" x2="960.7" y2="1473.6" stroke="#000" stroke-width="3"/>
<polygon points="918.7,1473.5 962.7,1462.9 962.7,1484.4" fill="#000"/>
<line x1="1339.9" y1="1473.5" x2="1323.3" y2="1491.8" stroke="#000" stroke-width="3"/>
<polygon points="1295.2,1523 1316.7,1483.1 1332.7,1497.5" fill="#000"/>
<line x1="1438.3" y1="1339.6" x2="1566.5" y2="1498.2" stroke="#000" stroke-width="3"/>
<polygon points="1592.9,1530.9 1556.9,1503.4 1573.6,1489.9" fill="#000"/>
<line x1="1661" y1="1411.4" x2="1680.6" y2="1467.4" stroke="#000" stroke-width="3"/>
<polygon points="1694.5,1507 1669.8,1469.0 1690.1,1461.9" fill="#000"/>
<line x1="1958.6" y1="1463.7" x2="1910.1" y2="1502.7" stroke="#000" stroke-width="3"/>
<polygon points="1877.4,1529 1905.0,1493.0 1918.4,1509.8" fill="#000"/>
</g>
<g id="txt">
<text transform="translate(196.7,281.5) scale(0.9909,1)" x="-1.46" y="0" font-size="73">DABA-6FDA</text>
<text transform="translate(198.2,432.7) scale(1.0014,1)" x="-1.46" y="0" font-size="73">PABA-6FDA</text>
<text transform="translate(199.3,674.0) scale(1.0066,1)" x="-0.73" y="0" font-size="73">APAB-6FDA</text>
<text transform="translate(183.5,832.5) scale(0.9936,1)" x="-0.73" y="0" font-size="73">ABHQ-6FDA</text>
<text transform="translate(193.3,1104.9) scale(0.9947,1)" x="-3.65" y="0" font-size="73">ODA-6FDA</text>
<text transform="translate(194.2,1267.7) scale(0.9869,1)" x="-1.46" y="0" font-size="73">TPE-6FDA</text>
<text transform="translate(1051.3,123.6) scale(0.9982,1)" x="-1.74" y="0" font-size="58">amide: C=O</text>
<text transform="translate(1389.8,124.5) scale(0.9614,1)" x="-1.74" y="0" font-size="58">amide: C-N (II, III)</text>
<text transform="translate(591.3,515.0) scale(0.9995,1)" x="-1.74" y="0" font-size="58">amide: N-H</text>
<text transform="translate(1547.7,688.0) scale(1.0215,1)" x="-2.90" y="0" font-size="58">C-O</text>
<text transform="translate(675.8,1534.0) scale(1.0040,1)" x="-1.16" y="0" font-size="58">imide: C=O</text>
<text transform="translate(1125.8,1564.3) scale(0.9921,1)" x="-1.16" y="0" font-size="58">imide: C-N</text>
<text transform="translate(1614.8,1567.0) scale(1.0057,1)" x="-2.90" y="0" font-size="58">C-O-C</text>
<text transform="translate(1819.8,1571.5) scale(1.0082,1)" x="-2.90" y="0" font-size="58">C=O</text>
<text x="292.9" y="1714.5" font-size="96.5" text-anchor="middle" >3600</text>
<text x="567.91" y="1714.5" font-size="96.5" text-anchor="middle" >3300</text>
<text x="969.7" y="1714.5" font-size="96.5" text-anchor="middle" >1800</text>
<text x="1244.71" y="1714.5" font-size="96.5" text-anchor="middle" >1500</text>
<text x="1519.72" y="1714.5" font-size="96.5" text-anchor="middle" >1200</text>
<text x="1796.73" y="1714.5" font-size="96.5" text-anchor="middle" >900</text>
<text x="2071.74" y="1714.5" font-size="96.5" text-anchor="middle" >600</text>
<text transform="translate(674.2,1884.6) scale(0.9819,1)" x="-1.05" y="0" font-size="105">Wavenumber (cm</text>
<text transform="translate(1463.0,1841.3) scale(0.9707,1)" x="-2.84" y="0" font-size="71">-1</text>
<text transform="translate(1520.8,1884.6) scale(1.0330,1)" x="-3.15" y="0" font-size="105">)</text>
<text transform="translate(83.5,1262.7) rotate(-90) scale(0.9902,1)" x="-2.07" y="0" font-size="103.7">Transmittance (a.u.)</text>
</g>
</svg>
</body></html>
